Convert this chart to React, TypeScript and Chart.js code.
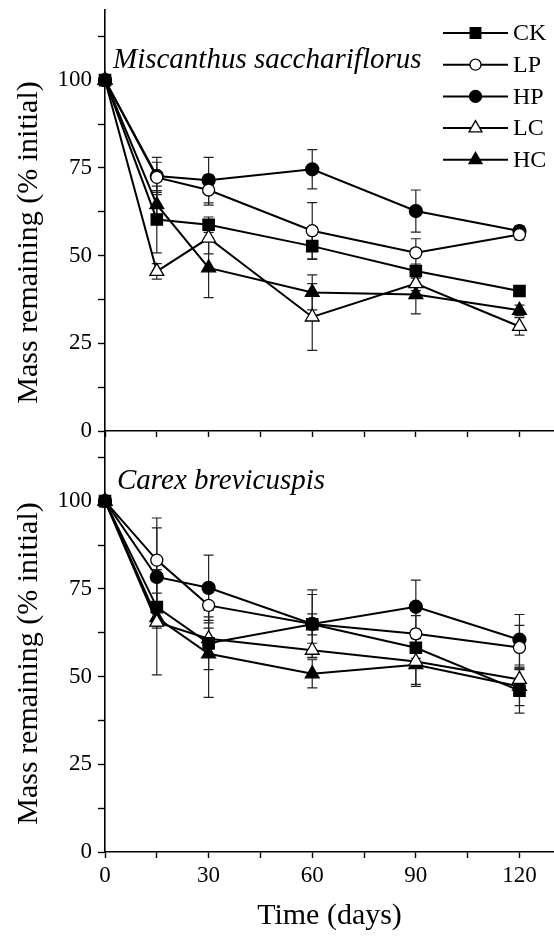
import React, { useEffect, useRef } from 'react';
import { Chart, registerables } from 'chart.js';
import { drawPoint } from 'chart.js/helpers';

Chart.register(...registerables);

// ---------- data ----------
const DAYS = [0, 15, 30, 60, 90, 120];
const SERIES = ['CK', 'LP', 'HP', 'LC', 'HC'];
const Y_LABELS = [0, 25, 50, 75, 100];
const X_LABELS = [0, 30, 60, 90, 120];

const TOP_TITLE = 'Miscanthus sacchariflorus';
const BOTTOM_TITLE = 'Carex brevicuspis';
const Y_TITLE = 'Mass remaining (% initial)';
const X_TITLE = 'Time (days)';

// Miscanthus sacchariflorus
const MS_CK = [100, 60.3, 58.8, 52.7, 45.6, 39.9];
const MS_LP = [100, 72.3, 68.7, 57.1, 50.8, 56.0];
const MS_HP = [100, 72.7, 71.5, 74.6, 62.7, 57.0];
const MS_LC = [100, 45.5, 55.0, 32.5, 42.0, 29.8];
const MS_HC = [100, 64.5, 46.5, 39.5, 38.9, 34.4];
const MS_CK_ERR = [0, 9.5, 2.2, 3.8, 2.0, 1.0];
const MS_LP_ERR = [0, 4.3, 4.3, 8.0, 4.0, 1.5];
const MS_HP_ERR = [0, 5.3, 6.5, 5.6, 6.0, 1.5];
const MS_LC_ERR = [0, 2.2, 4.5, 9.5, 2.0, 2.5];
const MS_HC_ERR = [0, 4.0, 8.5, 5.0, 5.5, 1.5];

// Carex brevicuspis
const CB_CK = [100, 69.8, 59.5, 64.9, 58.2, 46.0];
const CB_LP = [100, 83.2, 70.3, 65.0, 62.2, 58.3];
const CB_HP = [100, 78.4, 75.3, 65.0, 69.9, 60.5];
const CB_LC = [100, 65.5, 60.8, 57.5, 54.3, 49.2];
const CB_HC = [100, 66.8, 56.5, 50.8, 53.4, 47.2];
const CB_CK_ERR = [0, 4.0, 7.5, 3.0, 3.0, 6.4];
const CB_LP_ERR = [0, 12.0, 5.0, 8.4, 5.2, 6.3];
const CB_HP_ERR = [0, 14.0, 9.3, 9.7, 7.6, 7.2];
const CB_LC_ERR = [0, 15.0, 3.0, 2.0, 6.5, 3.0];
const CB_HC_ERR = [0, 3.0, 12.4, 4.0, 6.2, 5.5];

// ---------- styles ----------
const SERIF = "'Liberation Serif', 'Times New Roman', serif";
const POINT_STYLE = ['rect', 'circle', 'circle', 'triangle', 'triangle'];
const POINT_RADIUS = [8, 6, 6.5, 8, 8];
const POINT_FILL = ['#000', '#fff', '#000', '#fff', '#000'];

const W = 554;
const TOP_H = 445;
const BOT_TOP = 420;
const BOT_H = 936 - BOT_TOP;

function makeDatasets(values: number[][]) {
  return values.map((vals, i) => ({
    label: SERIES[i],
    data: DAYS.map((d, j) => ({ x: d, y: vals[j] })),
    borderColor: '#000',
    borderWidth: 2,
    pointStyle: POINT_STYLE[i],
    pointRadius: POINT_RADIUS[i],
    pointHoverRadius: POINT_RADIUS[i],
    pointBackgroundColor: POINT_FILL[i],
    pointBorderColor: '#000',
    pointBorderWidth: 1.3,
    tension: 0,
    fill: false,
    clip: false as any,
  }));
}

function errorBarPlugin(values: number[][], errs: number[][]) {
  return {
    id: 'errorBars',
    beforeDatasetsDraw(chart: any) {
      const { ctx, scales } = chart;
      const x = scales.x;
      const y = scales.y;
      ctx.save();
      ctx.strokeStyle = '#222';
      ctx.lineWidth = 1.2;
      values.forEach((vals, i) => {
        vals.forEach((v, j) => {
          const e = errs[i][j];
          if (!e) return;
          const px = x.getPixelForValue(DAYS[j]);
          const pt = y.getPixelForValue(v + e);
          const pb = y.getPixelForValue(v - e);
          ctx.beginPath();
          ctx.moveTo(px, pt);
          ctx.lineTo(px, pb);
          ctx.moveTo(px - 5, pt);
          ctx.lineTo(px + 5, pt);
          ctx.moveTo(px - 5, pb);
          ctx.lineTo(px + 5, pb);
          ctx.stroke();
        });
      });
      ctx.restore();
    },
  };
}

function textPlugin(title: string, titleX: number, withLegend: boolean) {
  return {
    id: 'panelText',
    afterDraw(chart: any) {
      const { ctx, chartArea } = chart;
      ctx.save();
      ctx.fillStyle = '#000';
      // panel title
      ctx.font = `italic 29px ${SERIF}`;
      ctx.textAlign = 'left';
      ctx.textBaseline = 'alphabetic';
      ctx.fillText(title, titleX, chartArea.top + 58);
      // y axis title
      const cy = (chartArea.top + chartArea.bottom) / 2 + 22;
      ctx.save();
      ctx.translate(37, cy);
      ctx.rotate(-Math.PI / 2);
      ctx.font = `30px ${SERIF}`;
      ctx.textAlign = 'center';
      ctx.textBaseline = 'alphabetic';
      ctx.fillText(Y_TITLE, 0, 0);
      ctx.restore();
      // legend
      if (withLegend) {
        SERIES.forEach((name, i) => {
          const ly = 33 + 31.7 * i;
          ctx.strokeStyle = '#000';
          ctx.lineWidth = 2;
          ctx.beginPath();
          ctx.moveTo(443, ly);
          ctx.lineTo(508, ly);
          ctx.stroke();
          ctx.fillStyle = POINT_FILL[i];
          ctx.strokeStyle = '#000';
          ctx.lineWidth = 1.3;
          drawPoint(ctx, { pointStyle: POINT_STYLE[i] as any, rotation: 0, radius: POINT_RADIUS[i] - 0.5, borderWidth: 1.3 }, 475.5, ly);
          ctx.fillStyle = '#000';
          ctx.font = `24px ${SERIF}`;
          ctx.textAlign = 'left';
          ctx.textBaseline = 'middle';
          ctx.fillText(name, 513, ly + 1);
        });
      }
      ctx.restore();
    },
  };
}

function makeConfig(values: number[][], errs: number[][], isTop: boolean, title: string, titleX: number) {
  const axisFont = { family: SERIF, size: 23 };
  return {
    type: 'line' as const,
    data: { datasets: makeDatasets(values) },
    plugins: [errorBarPlugin(values, errs), textPlugin(title, titleX, isTop)],
    options: {
      animation: false as const,
      responsive: false,
      devicePixelRatio: 1,
      events: [],
      layout: { autoPadding: false, padding: { top: isTop ? 10 : 11, left: 0, right: 0, bottom: 0 } },
      plugins: { legend: { display: false }, tooltip: { enabled: false }, title: { display: false } },
      scales: {
        x: {
          type: 'linear' as const,
          min: 0,
          max: 130,
          afterFit: (s: any) => {
            s.height = isTop ? TOP_H - 431 : 84;
            s.paddingLeft = 0;
            s.paddingRight = 0;
          },
          border: { display: true, color: '#000', width: 1.6 },
          grid: { drawOnChartArea: false, drawTicks: true, tickLength: 6, tickColor: '#000', tickWidth: 1.4 },
          ticks: {
            stepSize: 15,
            includeBounds: false,
            autoSkip: false,
            maxRotation: 0,
            padding: 4,
            color: '#000',
            font: axisFont,
            callback: (v: any) => (!isTop && X_LABELS.includes(Number(v)) ? String(v) : ''),
          },
          title: {
            display: !isTop,
            text: X_TITLE,
            color: '#000',
            font: { family: SERIF, size: 30 },
            padding: { top: 0, bottom: 2 },
          },
        },
        y: {
          type: 'linear' as const,
          min: 0,
          max: 120,
          afterFit: (s: any) => {
            s.width = 105;
            s.paddingTop = 0;
            s.paddingBottom = 0;
          },
          border: { display: true, color: '#000', width: 1.6 },
          grid: { drawOnChartArea: false, drawTicks: true, tickLength: 7, tickColor: '#000', tickWidth: 1.4 },
          ticks: {
            stepSize: 12.5,
            includeBounds: false,
            autoSkip: false,
            padding: 6,
            color: '#000',
            font: axisFont,
            callback: (v: any) => (Y_LABELS.includes(Number(v)) ? String(v) : ''),
          },
        },
      },
    },
  };
}

export default function App() {
  const topRef = useRef<HTMLCanvasElement | null>(null);
  const botRef = useRef<HTMLCanvasElement | null>(null);

  useEffect(() => {
    const topChart = new Chart(
      topRef.current as HTMLCanvasElement,
      makeConfig(
        [MS_CK, MS_LP, MS_HP, MS_LC, MS_HC],
        [MS_CK_ERR, MS_LP_ERR, MS_HP_ERR, MS_LC_ERR, MS_HC_ERR],
        true,
        TOP_TITLE,
        113
      ) as any
    );
    const botChart = new Chart(
      botRef.current as HTMLCanvasElement,
      makeConfig(
        [CB_CK, CB_LP, CB_HP, CB_LC, CB_HC],
        [CB_CK_ERR, CB_LP_ERR, CB_HP_ERR, CB_LC_ERR, CB_HC_ERR],
        false,
        BOTTOM_TITLE,
        117
      ) as any
    );
    return () => {
      topChart.destroy();
      botChart.destroy();
    };
  }, []);

  return (
    <div style={{ position: 'absolute', left: 0, top: 0, width: W, height: 936, background: '#fff', overflow: 'hidden' }}>
      <canvas
        ref={botRef}
        width={W}
        height={BOT_H}
        style={{ position: 'absolute', left: 0, top: BOT_TOP, width: W, height: BOT_H }}
      />
      <canvas
        ref={topRef}
        width={W}
        height={TOP_H}
        style={{ position: 'absolute', left: 0, top: 0, width: W, height: TOP_H }}
      />
    </div>
  );
}
